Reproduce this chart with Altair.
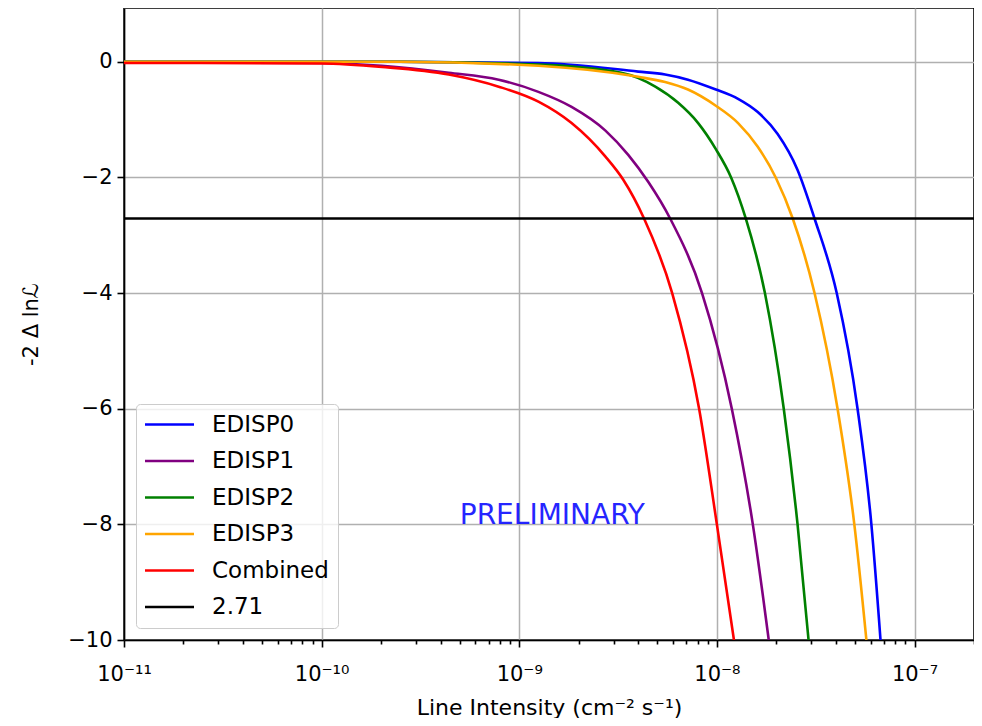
import altair as alt
import pandas as pd

# ---- data ----
series_names = ["EDISP0", "EDISP1", "EDISP2", "EDISP3", "Combined", "2.71"]
series_colors = ["blue", "purple", "green", "orange", "red", "black"]

edisp0_x = [1e-11, 2.47e-10, 1.25e-9, 4.00e-9, 5.47e-9, 7.14e-9, 9.88e-9, 1.28e-8,
            1.61e-8, 2.03e-8, 2.56e-8, 3.12e-8, 4.04e-8, 5.15e-8, 6.05e-8, 6.73e-8]
edisp0_y = [0, 0, -0.02, -0.17, -0.22, -0.31, -0.48, -0.64,
            -0.87, -1.25, -1.87, -2.71, -4.0, -6.0, -8.0, -10.0]

edisp1_x = [1e-11, 1e-10, 2.02e-10, 4.40e-10, 7.87e-10, 1.25e-9, 1.84e-9, 2.73e-9,
            3.56e-9, 4.50e-9, 5.80e-9, 8.41e-9, 1.19e-8, 1.52e-8, 1.83e-8]
edisp1_y = [-0.01, -0.02, -0.07, -0.19, -0.31, -0.52, -0.78, -1.19,
            -1.61, -2.08, -2.71, -4.0, -6.0, -8.0, -10.0]

edisp2_x = [1e-11, 2.47e-10, 1.25e-9, 3.28e-9, 4.88e-9, 6.37e-9, 8.04e-9, 9.88e-9,
            1.18e-8, 1.40e-8, 1.75e-8, 2.18e-8, 2.56e-8, 2.91e-8]
edisp2_y = [0, 0, -0.05, -0.19, -0.43, -0.71, -1.06, -1.51,
            -2.0, -2.71, -4.0, -6.0, -8.0, -10.0]

edisp3_x = [1e-11, 2.47e-10, 1.25e-9, 4.00e-9, 5.47e-9, 7.14e-9, 9.88e-9, 1.28e-8,
            1.61e-8, 1.99e-8, 2.42e-8, 3.12e-8, 4.08e-8, 4.96e-8, 5.71e-8]
edisp3_y = [0, 0, -0.07, -0.26, -0.35, -0.48, -0.76, -1.06,
            -1.47, -2.01, -2.71, -4.0, -6.0, -8.0, -10.0]

combined_x = [1e-11, 1e-10, 2.02e-10, 4.40e-10, 7.87e-10, 1.25e-9, 1.84e-9, 2.73e-9,
              3.36e-9, 4.28e-9, 5.94e-9, 8.13e-9, 1.00e-8, 1.22e-8]
combined_y = [-0.02, -0.03, -0.09, -0.22, -0.43, -0.69, -1.06, -1.64,
              -2.04, -2.71, -4.0, -6.0, -8.0, -10.0]

threshold = 2.71
x_limits = [1e-11, 2e-7]
y_limits = [-10, 0.93]

x_major = [1e-11, 1e-10, 1e-9, 1e-8, 1e-7]
x_major_labels = ["10⁻¹¹", "10⁻¹⁰", "10⁻⁹", "10⁻⁸", "10⁻⁷"]
x_minor = [m * 10.0 ** e for e in range(-11, -7) for m in range(2, 10)] + [2e-7]
y_ticks = [-10, -8, -6, -4, -2, 0]

note_text = ["PRELIMINARY"]
note_x = [5e-10]
note_y = [-8]

x_title = "Line Intensity (cm⁻² s⁻¹)"
y_title = "-2 Δ lnℒ"

# ---- build table ----
rows = []
for name, xs, ys in [("EDISP0", edisp0_x, edisp0_y), ("EDISP1", edisp1_x, edisp1_y),
                     ("EDISP2", edisp2_x, edisp2_y), ("EDISP3", edisp3_x, edisp3_y),
                     ("Combined", combined_x, combined_y),
                     ("2.71", x_limits, [-threshold, -threshold])]:
    for i, (xv, yv) in enumerate(zip(xs, ys)):
        rows.append({"x": xv, "y": yv, "series": name, "idx": i})
df = pd.DataFrame(rows)
minor_df = pd.DataFrame({"x": x_minor})
note_df = pd.DataFrame({"x": note_x, "y": note_y, "text": note_text})

label_expr = ""
for i, (v, lab) in enumerate(zip(x_major, x_major_labels)):
    if i < len(x_major) - 1:
        label_expr += f"datum.value < {v * 3:.3g} ? '{lab}' : "
    else:
        label_expr += f"'{lab}'"

FONT = "DejaVu Sans"
xscale = alt.Scale(type="log", domain=x_limits, nice=False)
yscale = alt.Scale(domain=y_limits, nice=False, zero=False)

y_axis = alt.Axis(values=y_ticks, format="d", title=y_title, grid=True, tickSize=7,
                  labelPadding=5, labelFlush=False, titleX=-93, titleY=316,
                  titleAngle=-90, titleBaseline="middle", titleAlign="center")

lines = alt.Chart(df).mark_line(strokeWidth=2.6, interpolate="monotone", clip=True).encode(
    x=alt.X("x:Q", scale=xscale,
            axis=alt.Axis(values=x_major, labelExpr=label_expr, title=x_title,
                          grid=True, tickSize=7, labelPadding=16, orient="bottom",
                          labelFlush=False, titleFontSize=22,
                          titleY=67, titleBaseline="middle", titleAlign="center")),
    y=alt.Y("y:Q", scale=yscale, axis=y_axis),
    color=alt.Color("series:N", sort=series_names,
                    scale=alt.Scale(domain=series_names, range=series_colors),
                    legend=alt.Legend(title=None, orient="bottom-left", offset=12,
                                      symbolType="M-2.45,0H2.45", symbolSize=400,
                                      symbolStrokeWidth=2.6, symbolOffset=13,
                                      labelOffset=31, labelFontSize=23, labelFont=FONT,
                                      labelColor="black", rowPadding=12.5, padding=9,
                                      fillColor="rgba(255,255,255,0.8)",
                                      strokeColor="#cccccc", cornerRadius=4)),
    order=alt.Order("idx:Q"),
)

note = alt.Chart(note_df).mark_text(align="left", baseline="alphabetic", fontSize=28,
                                    font=FONT, color="blue", opacity=0.85).encode(
    x=alt.X("x:Q", scale=xscale, axis=None),
    y=alt.Y("y:Q", scale=yscale, axis=y_axis),
    text="text:N")

minor = alt.Chart(minor_df).mark_point(opacity=0).encode(
    x=alt.X("x:Q", scale=xscale,
            axis=alt.Axis(values=x_minor, labels=False, grid=False, tickSize=4,
                          domain=False, title=None, orient="bottom")))

chart = alt.layer(lines, note, minor).resolve_axis(x="independent", y="shared").properties(
    width=850, height=632,
    autosize=alt.AutoSizeParams(type="none"),
    padding={"left": 116, "top": 0, "right": 0, "bottom": 78},
).configure_view(stroke="black", strokeWidth=1.6).configure_axis(
    domainColor="black", domainWidth=1.6, tickColor="black", tickWidth=1.6,
    labelColor="black", titleColor="black", gridColor="#b0b0b0", gridWidth=1.5,
    labelFont=FONT, titleFont=FONT, titleFontWeight="normal",
    labelFontSize=21, titleFontSize=21)

chart.save("out.html", embed_options={"renderer": "svg", "actions": False})
